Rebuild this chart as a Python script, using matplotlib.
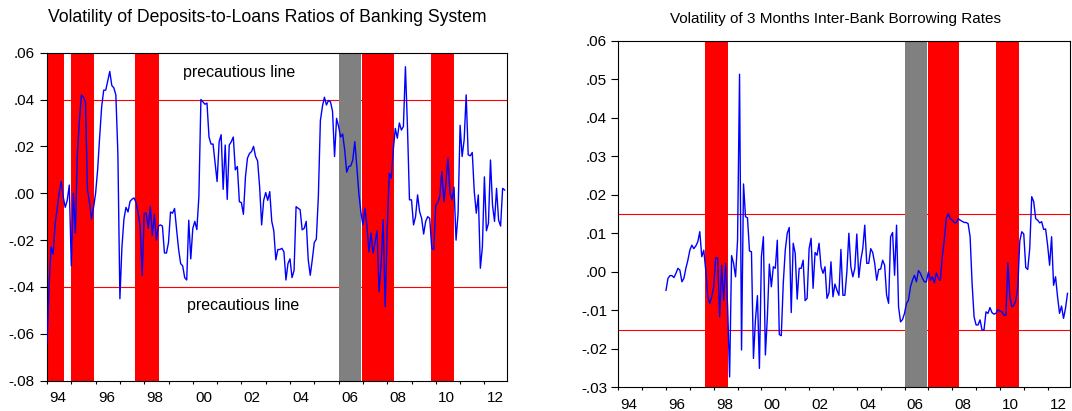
import numpy as np
import matplotlib
matplotlib.use("Agg")
import matplotlib.pyplot as plt
from matplotlib.ticker import FixedLocator, FuncFormatter

plt.rcParams['font.family'] = ['Liberation Sans', 'DejaVu Sans']

# monthly volatility, deposits-to-loans ratio, from Jan 1994
dl_start = 1994.0
dl_vals = [
    -0.064, -0.040, -0.023, -0.026, -0.013, -0.007, 0.000, 0.005, -0.0015, -0.006,
    -0.003, 0.0035, -0.031, 0.000, -0.017, 0.017, 0.031, 0.042, 0.041, 0.039,
    0.0015, -0.004, -0.011, -0.006, 0.000, 0.010, 0.024, 0.037, 0.044, 0.044,
    0.048, 0.052, 0.046, 0.045, 0.042, 0.017, -0.045, -0.023, -0.011, -0.006,
    -0.008, -0.0035, -0.0025, -0.002, -0.004, -0.0085, -0.014, -0.035, -0.0085,
    -0.0085, -0.015, -0.0055, -0.018, -0.009, -0.020, -0.014, -0.0135, -0.014, -0.0255,
    -0.0255, -0.021, -0.008, -0.0085, -0.0065, -0.0155, -0.024, -0.030, -0.031, -0.036,
    -0.037, -0.0115, -0.028, -0.015, -0.012, -0.0155, -0.0015, 0.040, 0.039, 0.038,
    0.0385, 0.024, 0.021, 0.021, 0.0128, 0.005, 0.022, 0.025, 0.0017, 0.0206,
    -0.0026, 0.0206, 0.022, 0.024, 0.010, 0.0114, -0.0036, -0.004, -0.009, 0.007,
    0.015, 0.017, 0.0178, 0.020, 0.0157, 0.0138, 0.0028, -0.0135, -0.003,
    0.0003, -0.003, 0.0007, -0.012, -0.016, -0.0284, -0.024, -0.024, -0.0235, -0.025,
    -0.037, -0.030, -0.028, -0.036, -0.033, -0.0057, -0.0064, -0.007, -0.0156, -0.015,
    -0.012, -0.0284, -0.035, -0.0284, -0.021, -0.0196, -0.0014, 0.031, 0.037, 0.041,
    0.0377, 0.0396, 0.039, 0.035, 0.0157, 0.032, 0.0285, 0.024, 0.0253, 0.0185,
    0.009, 0.0114, 0.0117, 0.0142, 0.022, 0.0114, 0.000, -0.008, -0.0135, -0.0064,
    -0.014, -0.025, -0.017, -0.0256, -0.021, -0.016, -0.042, -0.030, -0.0114, -0.0484,
    -0.0156, 0.0085, 0.0064, 0.0185, 0.0277, 0.0235, 0.030, 0.027, 0.0285, 0.054,
    0.0285, -0.0028, -0.0028, -0.0135, -0.010, -0.0007, -0.0078, -0.0107, -0.0174, -0.012,
    -0.010, -0.0107, -0.0235, -0.024, -0.005, -0.004, -0.0011, 0.0093, -0.0036,
    0.0043, 0.015, 0.000, -0.0028, 0.0026, -0.020, -0.0085, 0.029, 0.0157, 0.0228,
    0.042, 0.0164, 0.016, 0.0174, 0.0007, -0.0085, -0.0007, -0.032, -0.023, 0.007,
    -0.016, -0.0128, 0.0142, -0.005, -0.012, 0.0021, -0.0114, -0.014, 0.0021, 0.0014,
]

# monthly volatility, 3m inter-bank rate, from Jan 1996
ib_start = 1996.0
ib_vals = [
    -0.0048, -0.0017, -0.001, -0.001, -0.0015, -0.0004, 0.0009, 0.0004, -0.0026, -0.0017,
    0.0009, 0.003, 0.0056, 0.0069, 0.006, 0.0067, 0.0078, 0.0104, 0.0039, 0.0056,
    0.0004, -0.0065, -0.0082, -0.0065, -0.0039, 0.0036, 0.0035, -0.0117, 0.0017, -0.0074,
    0.0022, -0.0091, -0.0273, 0.0042, 0.0022, -0.0013, 0.0082, 0.0513, -0.0203, 0.0228,
    0.0143, 0.014, 0.0054, 0.0052, -0.0225, -0.0125, -0.0062, -0.0251, 0.0039, 0.0091,
    -0.0216, -0.0117, 0.002, -0.0039, 0.0013, 0.0009, 0.0082, -0.0163, -0.0166, -0.003,
    0.0056, 0.01, 0.0115, -0.0106, 0.0074, 0.0048, -0.0071, 0.0009, 0.0009, 0.003,
    -0.0075, -0.0069, 0.006, 0.0087, -0.0043, 0.005, 0.0043, 0.0074, 0.0013, -0.0004,
    0.0013, -0.0069, -0.0055, 0.0026, -0.0065, -0.0032, -0.0048, -0.0061, 0.0058, -0.0061,
    -0.0061, 0.0, 0.01, 0.0013, -0.0013, 0.0009, 0.0098, -0.0015, 0.003, 0.006,
    0.0121, 0.0022, 0.0022, 0.006, 0.005, 0.0022, -0.0022, 0.0006, 0.0007, 0.003,
    0.0017, -0.0061, -0.0082, 0.0091, 0.0102, -0.0009, 0.0121, -0.0091, -0.013, -0.0124,
    -0.0108, -0.0082, -0.0074, -0.0039, -0.0022, -0.0009, -0.0026, 0.0003, -0.0004, -0.0017,
    -0.0026, -0.0026, 0.0, -0.0022, -0.0013, -0.0029, -0.0003, -0.0017, -0.0022, 0.0039,
    0.0082, 0.0138, 0.0151, 0.0138, 0.0134, 0.0128, 0.0127, 0.0138, 0.0134, 0.0131,
    0.0128, 0.0128, 0.0125, 0.0091, -0.003, -0.0117, -0.0138, -0.0138, -0.0125, -0.0151,
    -0.0151, -0.0104, -0.0108, -0.0093, -0.0106, -0.011, -0.0108, -0.0098, -0.0102, -0.0104,
    -0.0113, -0.0113, 0.0023, -0.0065, -0.0091, -0.0087, -0.0075, -0.0039, 0.008, 0.0104,
    0.0098, 0.0011, 0.0006, 0.006, 0.0195, 0.0182, 0.0138, 0.0134, 0.0127, 0.013,
    0.011, 0.0111, 0.0069, 0.0017, 0.0091, -0.0035, -0.0013, -0.0065, -0.0108, -0.0089,
    -0.0121, -0.0095, -0.0056,
]

# shaded periods (start, end) in years
dl_red = [(1994.0, 1994.68), (1995.0, 1995.95), (1997.63, 1998.6),
          (2006.96, 2008.27), (2009.79, 2010.75)]
dl_gray = [(2006.0, 2006.93)]
ib_red = [(1997.62, 1998.6), (2007.0, 2008.27), (2009.83, 2010.79)]
ib_gray = [(2006.0, 2006.96)]

dl_lines = [0.04, -0.04]
ib_lines = [0.015, -0.015]

years = list(range(1994, 2013))


def fmt(v, pos=None):
    s = "%.2f" % v
    return s.replace("0.", ".", 1)


def setup(ax, ylim, ystep, ypad):
    ax.set_xlim(1994, 2012.93)
    ax.set_ylim(*ylim)
    yt = np.round(np.arange(ylim[0], ylim[1] + ystep / 2, ystep), 3)
    ax.yaxis.set_major_locator(FixedLocator(yt))
    ax.yaxis.set_major_formatter(FuncFormatter(fmt))
    ax.xaxis.set_major_locator(FixedLocator(years))
    ax.xaxis.set_major_formatter(FuncFormatter(lambda v, p: ""))
    ax.xaxis.set_minor_locator(FixedLocator([y + 0.45 for y in range(1994, 2013, 2)]))
    ax.xaxis.set_minor_formatter(FuncFormatter(lambda v, p: "%02d" % (int(v) % 100)))
    ax.tick_params(axis='x', which='major', direction='out', length=2.5, width=0.8)
    ax.tick_params(axis='x', which='minor', length=0, pad=7.5, labelsize=11)
    ax.tick_params(axis='y', direction='out', length=5, width=0.8, pad=ypad, labelsize=11)
    for sp in ax.spines.values():
        sp.set_linewidth(0.8)


fig = plt.figure(figsize=(10.72, 4.11), dpi=100)
ax1 = fig.add_axes([47 / 1072, 30.3 / 411, 460 / 1072, 328 / 411])
ax2 = fig.add_axes([618.3 / 1072, 23.7 / 411, 451.5 / 1072, 346.6 / 411])

# left panel
for lv in dl_lines:
    ax1.axhline(lv, color='red', lw=0.8, zorder=1)
for a, b in dl_red:
    ax1.axvspan(a, b, color='#ff0000', lw=0, zorder=2)
for a, b in dl_gray:
    ax1.axvspan(a, b, color='#808080', lw=0, zorder=2)
x1 = dl_start + np.arange(len(dl_vals)) / 12
ax1.plot(x1, dl_vals, color='#0000ff', lw=1.0, zorder=3)
ax1.text(2001.9, 0.0516, "precautious line", ha='center', va='center', fontsize=11.5)
ax1.text(2002.08, -0.0477, "precautious line", ha='center', va='center', fontsize=11.5)
setup(ax1, (-0.08, 0.06), 0.02, 4)

# right panel
for lv in ib_lines:
    ax2.axhline(lv, color='red', lw=0.8, zorder=1)
for a, b in ib_red:
    ax2.axvspan(a, b, color='#ff0000', lw=0, zorder=2)
for a, b in ib_gray:
    ax2.axvspan(a, b, color='#808080', lw=0, zorder=2)
x2 = ib_start + np.arange(len(ib_vals)) / 12
ax2.plot(x2, ib_vals, color='#0000ff', lw=1.0, zorder=3)
setup(ax2, (-0.03, 0.06), 0.01, 3)

fig.text(267 / 1072, 1 - 18 / 411, "Volatility of Deposits-to-Loans Ratios of Banking System",
         ha='center', va='center', fontsize=12.7)
fig.text(835 / 1072, 1 - 19 / 411, "Volatility of 3 Months Inter-Bank Borrowing Rates",
         ha='center', va='center', fontsize=11)

fig.savefig("out.png", dpi=100)
